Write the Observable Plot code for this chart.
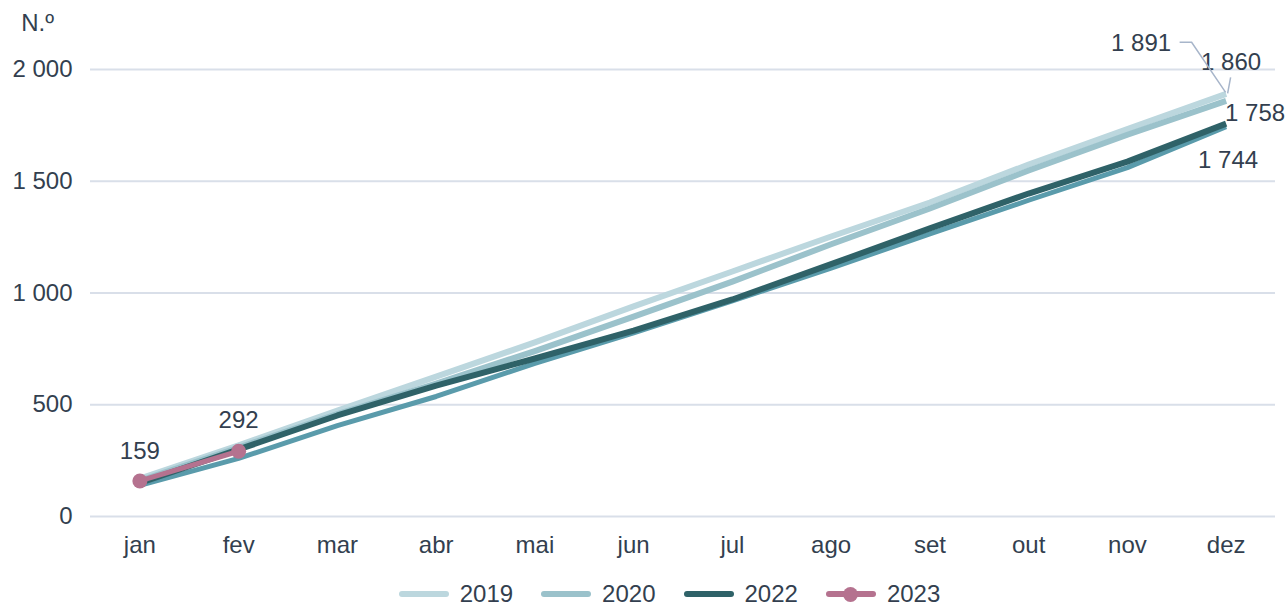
<!DOCTYPE html>
<html>
<head>
<meta charset="utf-8">
<script src="https://cdn.jsdelivr.net/npm/d3@7"></script>
<script src="https://cdn.jsdelivr.net/npm/@observablehq/plot@0.6"></script>
<style>
  html, body { margin: 0; padding: 0; background: #fff; }
  body { width: 1285px; height: 606px; overflow: hidden; font-family: "Liberation Sans", Arial, sans-serif; }
  #chart svg { display: block; }
  #legend { display: flex; justify-content: center; align-items: center; height: 24px; line-height: 24px; margin-top: 2px; font-size: 24px; color: #333f4f; padding-left: 54px; }
  .item { display: flex; align-items: center; margin-right: 28px; }
  .item:last-child { margin-right: 0; }
  .sw { position: relative; width: 50px; height: 24px; margin-right: 11px; }
  .sw .ln { position: absolute; left: 0; right: 0; top: 9px; height: 6px; border-radius: 3px; }
  .sw .dt { position: absolute; left: 17px; top: 4.5px; width: 15px; height: 15px; border-radius: 50%; }
</style>
</head>
<body>
<div id="chart"></div>
<div id="legend"></div>
<script>
const months = ["jan","fev","mar","abr","mai","jun","jul","ago","set","out","nov","dez"];
const v2019 = [170, 318, 474, 626, 779, 940, 1096, 1253, 1405, 1575, 1733, 1891];
const v2020 = [160, 308, 458, 595, 740, 894, 1051, 1218, 1378, 1548, 1708, 1860];
const v2021 = [139, 260, 407, 537, 685, 822, 965, 1111, 1265, 1415, 1561, 1744];
const v2022 = [150, 300, 452, 586, 707, 832, 971, 1129, 1289, 1445, 1588, 1758];
const v2023 = [159, 292];
const yTicks = [0, 500, 1000, 1500, 2000];
const seriesNames = ["2019", "2020", "2021", "2022", "2023"];
const seriesColors = ["#bcd7de", "#9bc2cb", "#5a9bab", "#2f6268", "#b5728f"];
const legendNames = ["2019", "2020", "2022", "2023"];

const fmt = d => d3.format(",")(d).replace(/,/g, " ");
const toRows = (name, vals) => vals.map((v, i) => ({ series: name, month: months[i], value: v }));
const rows = [
  ...toRows("2019", v2019), ...toRows("2020", v2020), ...toRows("2021", v2021),
  ...toRows("2022", v2022), ...toRows("2023", v2023)
];
const colorOf = Object.fromEntries(seriesNames.map((s, i) => [s, seriesColors[i]]));

// value labels: [series, month index, dx, dy]
const labelSpecs = [
  ["2023", 0, 0, -30],
  ["2023", 1, 0, -31],
  ["2019", 11, -85, -51],
  ["2020", 11, 5, -38],
  ["2022", 11, 29, -10],
  ["2021", 11, 2, 34]
];
const seriesVals = { "2019": v2019, "2020": v2020, "2021": v2021, "2022": v2022, "2023": v2023 };
const labels = labelSpecs.map(([s, i, dx, dy]) => ({ month: months[i], value: seriesVals[s][i], text: fmt(seriesVals[s][i]), dx, dy }));

const textColor = "#333f4f";
const lineW = { "2019": 6, "2020": 6, "2021": 5, "2022": 6, "2023": 5 };

const marks = [
  Plot.gridY(yTicks, { stroke: "#d9dfe9", strokeWidth: 2, strokeOpacity: 1 }),
  Plot.axisY(yTicks, { tickSize: 0, tickPadding: 18, tickFormat: fmt, fontSize: 24, fill: textColor, label: null }),
  Plot.axisX({ tickSize: 0, tickPadding: 19, fontSize: 24, fill: textColor, label: null }),
  ...seriesNames.map(s => Plot.line(rows.filter(r => r.series === s), {
    x: "month", y: "value", stroke: colorOf[s], strokeWidth: lineW[s], strokeLinecap: "butt", strokeLinejoin: "round"
  })),
  Plot.dot(rows.filter(r => r.series === "2023"), { x: "month", y: "value", r: 7.5, fill: colorOf["2023"] }),
  ...labels.map(l => Plot.text([l], { x: "month", y: "value", text: "text", dx: l.dx, dy: l.dy, fontSize: 24, fill: textColor })),
  Plot.text(["N.º"], { frameAnchor: "top-left", dx: -53, dy: -56, fontSize: 24, fill: textColor, textAnchor: "middle" })
];

const chart = Plot.plot({
  width: 1285,
  height: 580,
  marginLeft: 90,
  marginRight: 10,
  marginTop: 69,
  marginBottom: 64,
  style: { fontFamily: '"Liberation Sans", Arial, sans-serif', background: "#fff", overflow: "visible" },
  x: { type: "point", domain: months, padding: 0.5, round: false },
  y: { domain: [0, 2000] },
  marks
});

// leader lines for the December labels, positioned from the scales
const sx = chart.scale("x"), sy = chart.scale("y");
const xd = sx.apply("dez"), y19 = sy.apply(v2019[11]), y20 = sy.apply(v2020[11]);
const svg = d3.select(chart);
svg.append("path")
  .attr("d", `M${xd - 46},${y19 - 51} L${xd - 34},${y19 - 51} L${xd},${y19 - 1}`)
  .attr("fill", "none").attr("stroke", "#a7b5ca").attr("stroke-width", 1.5);
svg.append("path")
  .attr("d", `M${xd + 5},${y20 - 23} L${xd + 2},${y20 - 7}`)
  .attr("fill", "none").attr("stroke", "#a7b5ca").attr("stroke-width", 1.5);

document.getElementById("chart").appendChild(chart);

const legend = d3.select("#legend");
legendNames.forEach(name => {
  const it = legend.append("div").attr("class", "item");
  const sw = it.append("div").attr("class", "sw");
  sw.append("div").attr("class", "ln").style("background", colorOf[name]);
  if (name === "2023") sw.append("div").attr("class", "dt").style("background", colorOf[name]);
  it.append("span").text(name);
});
</script>
</body>
</html>
